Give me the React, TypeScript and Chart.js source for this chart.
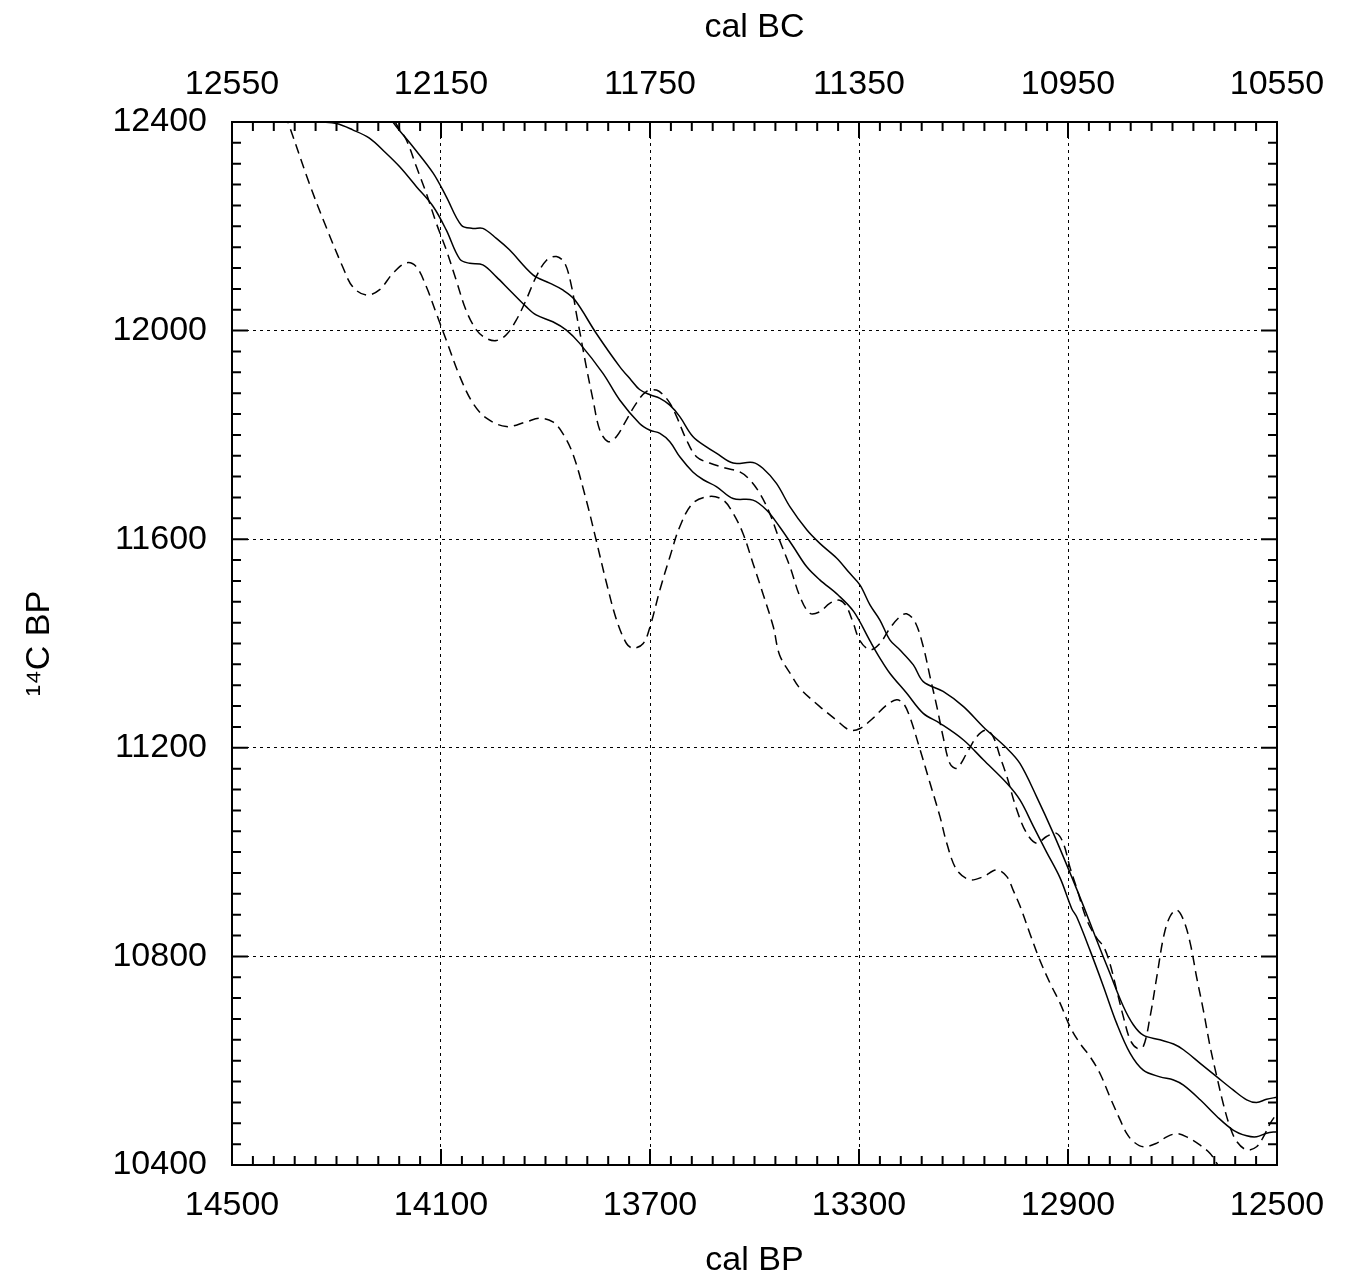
import React, { useEffect, useRef } from "react";
import { Chart, registerables } from "chart.js";

Chart.register(...registerables);

// ---- axes ----
const calBPMin = 12500;
const calBPMax = 14500;
const c14Min = 10400;
const c14Max = 12400;
const calBPTicks = [14500, 14100, 13700, 13300, 12900, 12500];
const calBCTickLabels = ["12550", "12150", "11750", "11350", "10950", "10550"];
const c14Ticks = [10400, 10800, 11200, 11600, 12000, 12400];
const minorStep = 40;

// ---- series: [cal BP, 14C BP] ----
const solidUpper: [number, number][] = [
  [14230, 12460], [14192, 12400], [14154, 12353], [14115, 12302], [14090, 12257],
  [14061, 12202], [14039, 12196], [14020, 12196], [13994, 12177], [13969, 12155],
  [13924, 12107], [13892, 12091], [13867, 12078], [13844, 12059], [13803, 11995],
  [13758, 11931], [13736, 11905], [13720, 11887], [13700, 11877], [13681, 11870],
  [13662, 11857], [13643, 11835], [13618, 11797], [13592, 11777], [13573, 11765],
  [13541, 11746], [13503, 11747], [13484, 11736], [13458, 11707], [13432, 11662],
  [13400, 11618], [13375, 11592], [13343, 11564], [13318, 11535], [13298, 11512],
  [13279, 11474], [13260, 11445], [13241, 11407], [13222, 11388], [13196, 11359],
  [13177, 11327], [13139, 11308], [13100, 11279], [13062, 11240], [13017, 11199],
  [12992, 11170], [12960, 11106], [12928, 11036], [12896, 10960], [12869, 10893],
  [12845, 10831], [12820, 10768], [12794, 10704], [12775, 10669], [12756, 10649],
  [12724, 10640], [12698, 10632], [12679, 10621], [12647, 10595], [12615, 10569],
  [12584, 10544], [12558, 10525], [12539, 10520], [12520, 10526], [12500, 10530],
];

const solidLower: [number, number][] = [
  [14420, 12410], [14380, 12404], [14330, 12400], [14300, 12397], [14269, 12385],
  [14237, 12369], [14205, 12340], [14179, 12314], [14147, 12276], [14115, 12238],
  [14090, 12193], [14064, 12137], [14045, 12129], [14020, 12126], [13994, 12103],
  [13969, 12078], [13937, 12046], [13918, 12030], [13886, 12017], [13860, 12001],
  [13835, 11976], [13790, 11918], [13758, 11867], [13720, 11822], [13700, 11809],
  [13681, 11803], [13662, 11787], [13643, 11758], [13618, 11729], [13598, 11714],
  [13573, 11701], [13541, 11678], [13503, 11675], [13477, 11656], [13452, 11624],
  [13426, 11586], [13400, 11547], [13375, 11522], [13340, 11493], [13310, 11461],
  [13279, 11405], [13260, 11372], [13241, 11343], [13209, 11305], [13177, 11266],
  [13145, 11247], [13100, 11215], [13062, 11177], [13017, 11132], [12992, 11100],
  [12966, 11049], [12941, 11000], [12915, 10950], [12893, 10892], [12883, 10875],
  [12858, 10812], [12832, 10742], [12807, 10672], [12781, 10614], [12756, 10582],
  [12724, 10569], [12698, 10563], [12679, 10553], [12647, 10525], [12615, 10493],
  [12584, 10467], [12558, 10456], [12539, 10454], [12520, 10461], [12500, 10464],
];

const dashedUpper: [number, number][] = [
  [14200, 12430], [14186, 12397], [14166, 12365], [14147, 12314], [14128, 12263],
  [14109, 12206], [14090, 12155], [14071, 12097], [14052, 12039], [14032, 12001],
  [14013, 11985], [13994, 11981], [13975, 11992], [13956, 12020], [13937, 12059],
  [13918, 12103], [13898, 12135], [13879, 12142], [13863, 12129], [13850, 12084],
  [13841, 12033], [13835, 12001], [13822, 11931], [13809, 11867], [13796, 11809],
  [13780, 11787], [13764, 11797], [13745, 11829], [13726, 11861], [13707, 11883],
  [13688, 11886], [13675, 11877], [13662, 11861], [13649, 11835], [13630, 11790],
  [13611, 11758], [13586, 11746], [13554, 11736], [13528, 11729], [13509, 11714],
  [13490, 11688], [13471, 11650], [13452, 11598], [13432, 11547], [13413, 11490],
  [13394, 11458], [13375, 11461], [13356, 11477], [13337, 11483], [13324, 11471],
  [13311, 11439], [13298, 11405], [13279, 11388], [13260, 11400], [13241, 11429],
  [13222, 11451], [13209, 11457], [13193, 11442], [13177, 11394], [13164, 11336],
  [13151, 11279], [13139, 11221], [13126, 11170], [13113, 11161], [13094, 11189],
  [13075, 11221], [13056, 11234], [13043, 11221], [13030, 11183], [13017, 11145],
  [12998, 11081], [12979, 11036], [12960, 11017], [12941, 11030], [12922, 11036],
  [12909, 11017], [12896, 10970], [12883, 10930], [12864, 10870], [12845, 10835],
  [12832, 10819], [12820, 10787], [12807, 10736], [12794, 10684], [12781, 10640],
  [12768, 10624], [12756, 10627], [12743, 10684], [12730, 10761], [12717, 10838],
  [12705, 10876], [12692, 10889], [12679, 10870], [12666, 10825], [12654, 10761],
  [12641, 10697], [12628, 10627], [12615, 10569], [12603, 10518], [12590, 10473],
  [12577, 10445], [12558, 10429], [12539, 10435], [12526, 10454], [12513, 10480],
  [12500, 10499],
];

const dashedLower: [number, number][] = [
  [14400, 12415], [14393, 12400], [14352, 12282], [14320, 12199], [14288, 12122],
  [14269, 12084], [14243, 12068], [14218, 12078], [14192, 12110], [14166, 12130],
  [14147, 12122], [14128, 12084], [14109, 12033], [14090, 11982], [14064, 11912],
  [14039, 11861], [14013, 11832], [13975, 11816], [13937, 11825], [13911, 11832],
  [13886, 11825], [13867, 11803], [13847, 11762], [13822, 11675], [13803, 11598],
  [13783, 11515], [13764, 11445], [13745, 11400], [13732, 11391], [13713, 11400],
  [13700, 11432], [13681, 11503], [13662, 11566], [13643, 11624], [13618, 11669],
  [13586, 11682], [13560, 11675], [13541, 11650], [13522, 11611], [13503, 11554],
  [13484, 11496], [13464, 11432], [13452, 11378], [13430, 11340], [13413, 11314],
  [13375, 11279], [13343, 11253], [13318, 11234], [13298, 11237], [13273, 11257],
  [13247, 11282], [13228, 11292], [13215, 11285], [13203, 11260], [13183, 11196],
  [13164, 11132], [13145, 11068], [13132, 11017], [13113, 10966], [13088, 10947],
  [13062, 10953], [13037, 10966], [13017, 10953], [13005, 10927], [12992, 10897],
  [12973, 10844], [12954, 10793], [12934, 10748], [12915, 10710], [12896, 10665],
  [12877, 10633], [12858, 10608], [12839, 10576], [12820, 10531], [12800, 10486],
  [12788, 10461], [12775, 10445], [12756, 10435], [12730, 10442], [12711, 10454],
  [12692, 10460], [12673, 10454], [12647, 10438], [12628, 10422], [12615, 10403],
  [12595, 10370],
];

const FONT_FAMILY = "'Liberation Sans', Arial, Helvetica, sans-serif";
const FONT_SIZE = 34;

const framePlugin = {
  id: "gnuFrame",
  afterDatasetsDraw(chart: any) {
    const { ctx, chartArea } = chart;
    const { left, right, top, bottom } = chartArea;
    const xs = chart.scales.x;
    const ys = chart.scales.y;
    ctx.save();
    ctx.strokeStyle = "#000";
    ctx.lineWidth = 2;
    ctx.setLineDash([]);
    ctx.beginPath();
    for (let v = calBPMin; v <= calBPMax; v += minorStep) {
      const px = xs.getPixelForValue(v);
      const len = calBPTicks.includes(v) ? 16 : 9;
      ctx.moveTo(px, bottom);
      ctx.lineTo(px, bottom - len);
      ctx.moveTo(px, top);
      ctx.lineTo(px, top + len);
    }
    for (let v = c14Min; v <= c14Max; v += minorStep) {
      const py = ys.getPixelForValue(v);
      const len = c14Ticks.includes(v) ? 16 : 9;
      ctx.moveTo(left, py);
      ctx.lineTo(left + len, py);
      ctx.moveTo(right, py);
      ctx.lineTo(right - len, py);
    }
    ctx.stroke();
    ctx.strokeRect(left, top, right - left, bottom - top);
    ctx.restore();
  },
};

const toPoints = (arr: [number, number][]) => arr.map(([x, y]) => ({ x, y }));

export default function App() {
  const canvasRef = useRef<HTMLCanvasElement | null>(null);

  useEffect(() => {
    document.body.style.margin = "0";
    document.body.style.overflow = "hidden";
    const canvas = canvasRef.current;
    if (!canvas) return;
    const font = { family: FONT_FAMILY, size: FONT_SIZE };
    const lineBase = {
      borderColor: "#000",
      borderWidth: 1.5,
      pointRadius: 0,
      fill: false,
      tension: 0.35,
    };
    const chart = new Chart(canvas, {
      type: "line",
      data: {
        datasets: [
          { ...lineBase, label: "upper", data: toPoints(solidUpper) },
          { ...lineBase, label: "lower", data: toPoints(solidLower) },
          { ...lineBase, label: "dashed upper", data: toPoints(dashedUpper), borderDash: [10, 6] },
          { ...lineBase, label: "dashed lower", data: toPoints(dashedLower), borderDash: [10, 6] },
        ],
      },
      options: {
        animation: false,
        responsive: false,
        devicePixelRatio: 1,
        parsing: true,
        layout: { padding: { left: 0, right: 74, top: 0, bottom: 0 } },
        plugins: {
          legend: { display: false },
          tooltip: { enabled: false },
        },
        scales: {
          x: {
            type: "linear",
            position: "bottom",
            reverse: true,
            min: calBPMin,
            max: calBPMax,
            afterBuildTicks: (s: any) => {
              s.ticks = calBPTicks.map((v) => ({ value: v }));
            },
            afterFit: (s: any) => {
              s.height = 116;
            },
            ticks: {
              font,
              color: "#000",
              padding: 20,
              maxRotation: 0,
              autoSkip: false,
              callback: (v: any) => String(v),
            },
            grid: { color: "#000", lineWidth: 1, drawTicks: false },
            border: { display: false, dash: [3, 4] },
            title: { display: true, text: "cal BP", font, color: "#000", padding: { top: 0, bottom: 0 } },
          },
          x2: {
            type: "linear",
            position: "top",
            reverse: true,
            min: calBPMin,
            max: calBPMax,
            afterBuildTicks: (s: any) => {
              s.ticks = calBPTicks.map((v) => ({ value: v }));
            },
            afterFit: (s: any) => {
              s.height = 122;
            },
            ticks: {
              font,
              color: "#000",
              padding: 17,
              maxRotation: 0,
              autoSkip: false,
              callback: (_v: any, i: number) => calBCTickLabels[i],
            },
            grid: { display: false, drawTicks: false },
            border: { display: false },
            title: { display: true, text: "cal BC", font, color: "#000", padding: { top: 7, bottom: 0 } },
          },
          y: {
            type: "linear",
            position: "left",
            min: c14Min,
            max: c14Max,
            afterBuildTicks: (s: any) => {
              s.ticks = c14Ticks.map((v) => ({ value: v }));
            },
            afterFit: (s: any) => {
              s.width = 232;
            },
            ticks: {
              font,
              color: "#000",
              padding: 25,
              autoSkip: false,
              callback: (v: any) => String(v),
            },
            grid: { color: "#000", lineWidth: 1, drawTicks: false },
            border: { display: false, dash: [3, 4] },
            title: { display: true, text: "¹⁴C BP", font, color: "#000", padding: { top: 19, bottom: 0 } },
          },
        },
      },
      plugins: [framePlugin],
    } as any);
    return () => chart.destroy();
  }, []);

  return (
    <canvas
      ref={canvasRef}
      width={1351}
      height={1281}
      style={{ display: "block", width: "1351px", height: "1281px", background: "#fff" }}
    />
  );
}
